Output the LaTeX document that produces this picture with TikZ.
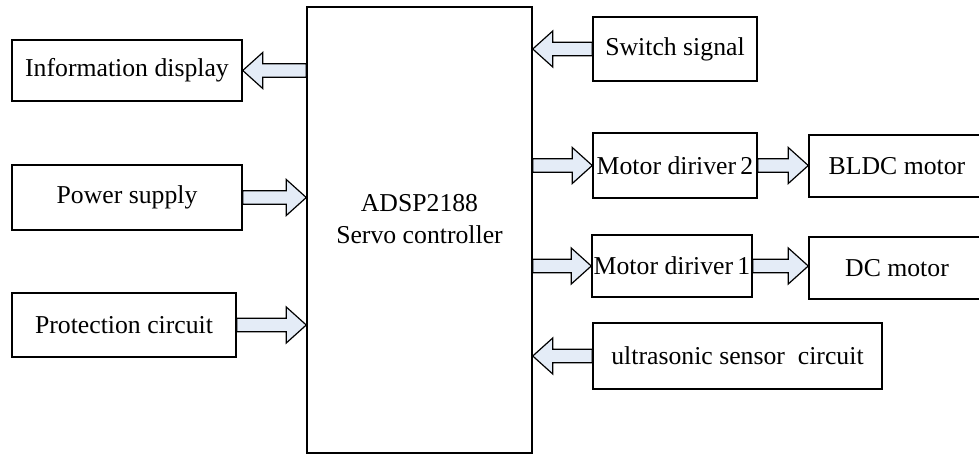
\documentclass[tikz,border=0pt]{standalone}
\usepackage{fontspec}
\setmainfont{Liberation Serif}
\usepackage{tikz}
\usetikzlibrary{positioning,calc}
\usepackage{xcolor}
\definecolor{arrowfill}{RGB}{228,236,247}

\begin{document}
\begin{tikzpicture}[
    x=0.75pt, y=-0.75pt,
    blk/.style 2 args={rectangle, draw, line width=1.1pt, minimum width=#1*0.75pt, minimum height=#2*0.75pt, inner sep=1pt, align=center, font=\fontsize{19.3}{23}\selectfont},
    fatarrow/.style={draw, fill=arrowfill, line width=0.9pt, line join=miter,
        to path={let \p1=(\tikztostart), \p2=(\tikztotarget), \n1={sign(\x2-\x1)} in
            (\x1,{\y1+5pt}) -- ({\x2-\n1*15pt},{\y1+5pt}) -- ({\x2-\n1*15pt},{\y1+13.5pt})
            -- (\x2,\y1) -- ({\x2-\n1*15pt},{\y1-13.5pt}) -- ({\x2-\n1*15pt},{\y1-5pt})
            -- (\x1,{\y1-5pt}) -- cycle}},
]
\useasboundingbox (0,0) rectangle (979,454);

% Controller
\node[blk={225}{446}] (ctrl) at (419.5,230) {};
\node[align=center, font=\fontsize{19.3}{23.5}\selectfont] (ctrl_text) at (419.5,219) {ADSP2188\\Servo controller};

% Left side
\node[blk={230}{61}] (info) at (127,70.5) {Information display};
\node[blk={230}{65}] (power) at (127,197.5) {Power supply};
\node[blk={224}{64}] (prot) at (124,325) {Protection circuit};

% Right side
\node[blk={164}{64}] (switch) at (675,49) {Switch signal};
\node[blk={164}{65}] (md2) at (675,165.5) {Motor diriver\,2};
\node[blk={160}{62}] (md1) at (672,266) {Motor diriver\,1};
\node[blk={176}{62}] (bldc) at (897,166) {BLDC motor};
\node[blk={176}{62}] (dc) at (897,268) {DC motor};
\node[blk={289}{66}] (ultra) at (737.5,356) {ultrasonic sensor\ \ circuit};

% Arrows
\draw[fatarrow] (ctrl.west |- info.east) to (info.east);
\draw[fatarrow] (power.east) to (ctrl.west |- power.east);
\draw[fatarrow] (prot.east) to (ctrl.west |- prot.east);
\draw[fatarrow] (switch.west) to (ctrl.east |- switch.west);
\draw[fatarrow] (ctrl.east |- md2.west) to (md2.west);
\draw[fatarrow] (md2.east) to (bldc.west |- md2.east);
\draw[fatarrow] (ctrl.east |- md1.west) to (md1.west);
\draw[fatarrow] (md1.east) to (dc.west |- md1.east);
\draw[fatarrow] (ultra.west) to (ctrl.east |- ultra.west);

\end{tikzpicture}
\end{document}
